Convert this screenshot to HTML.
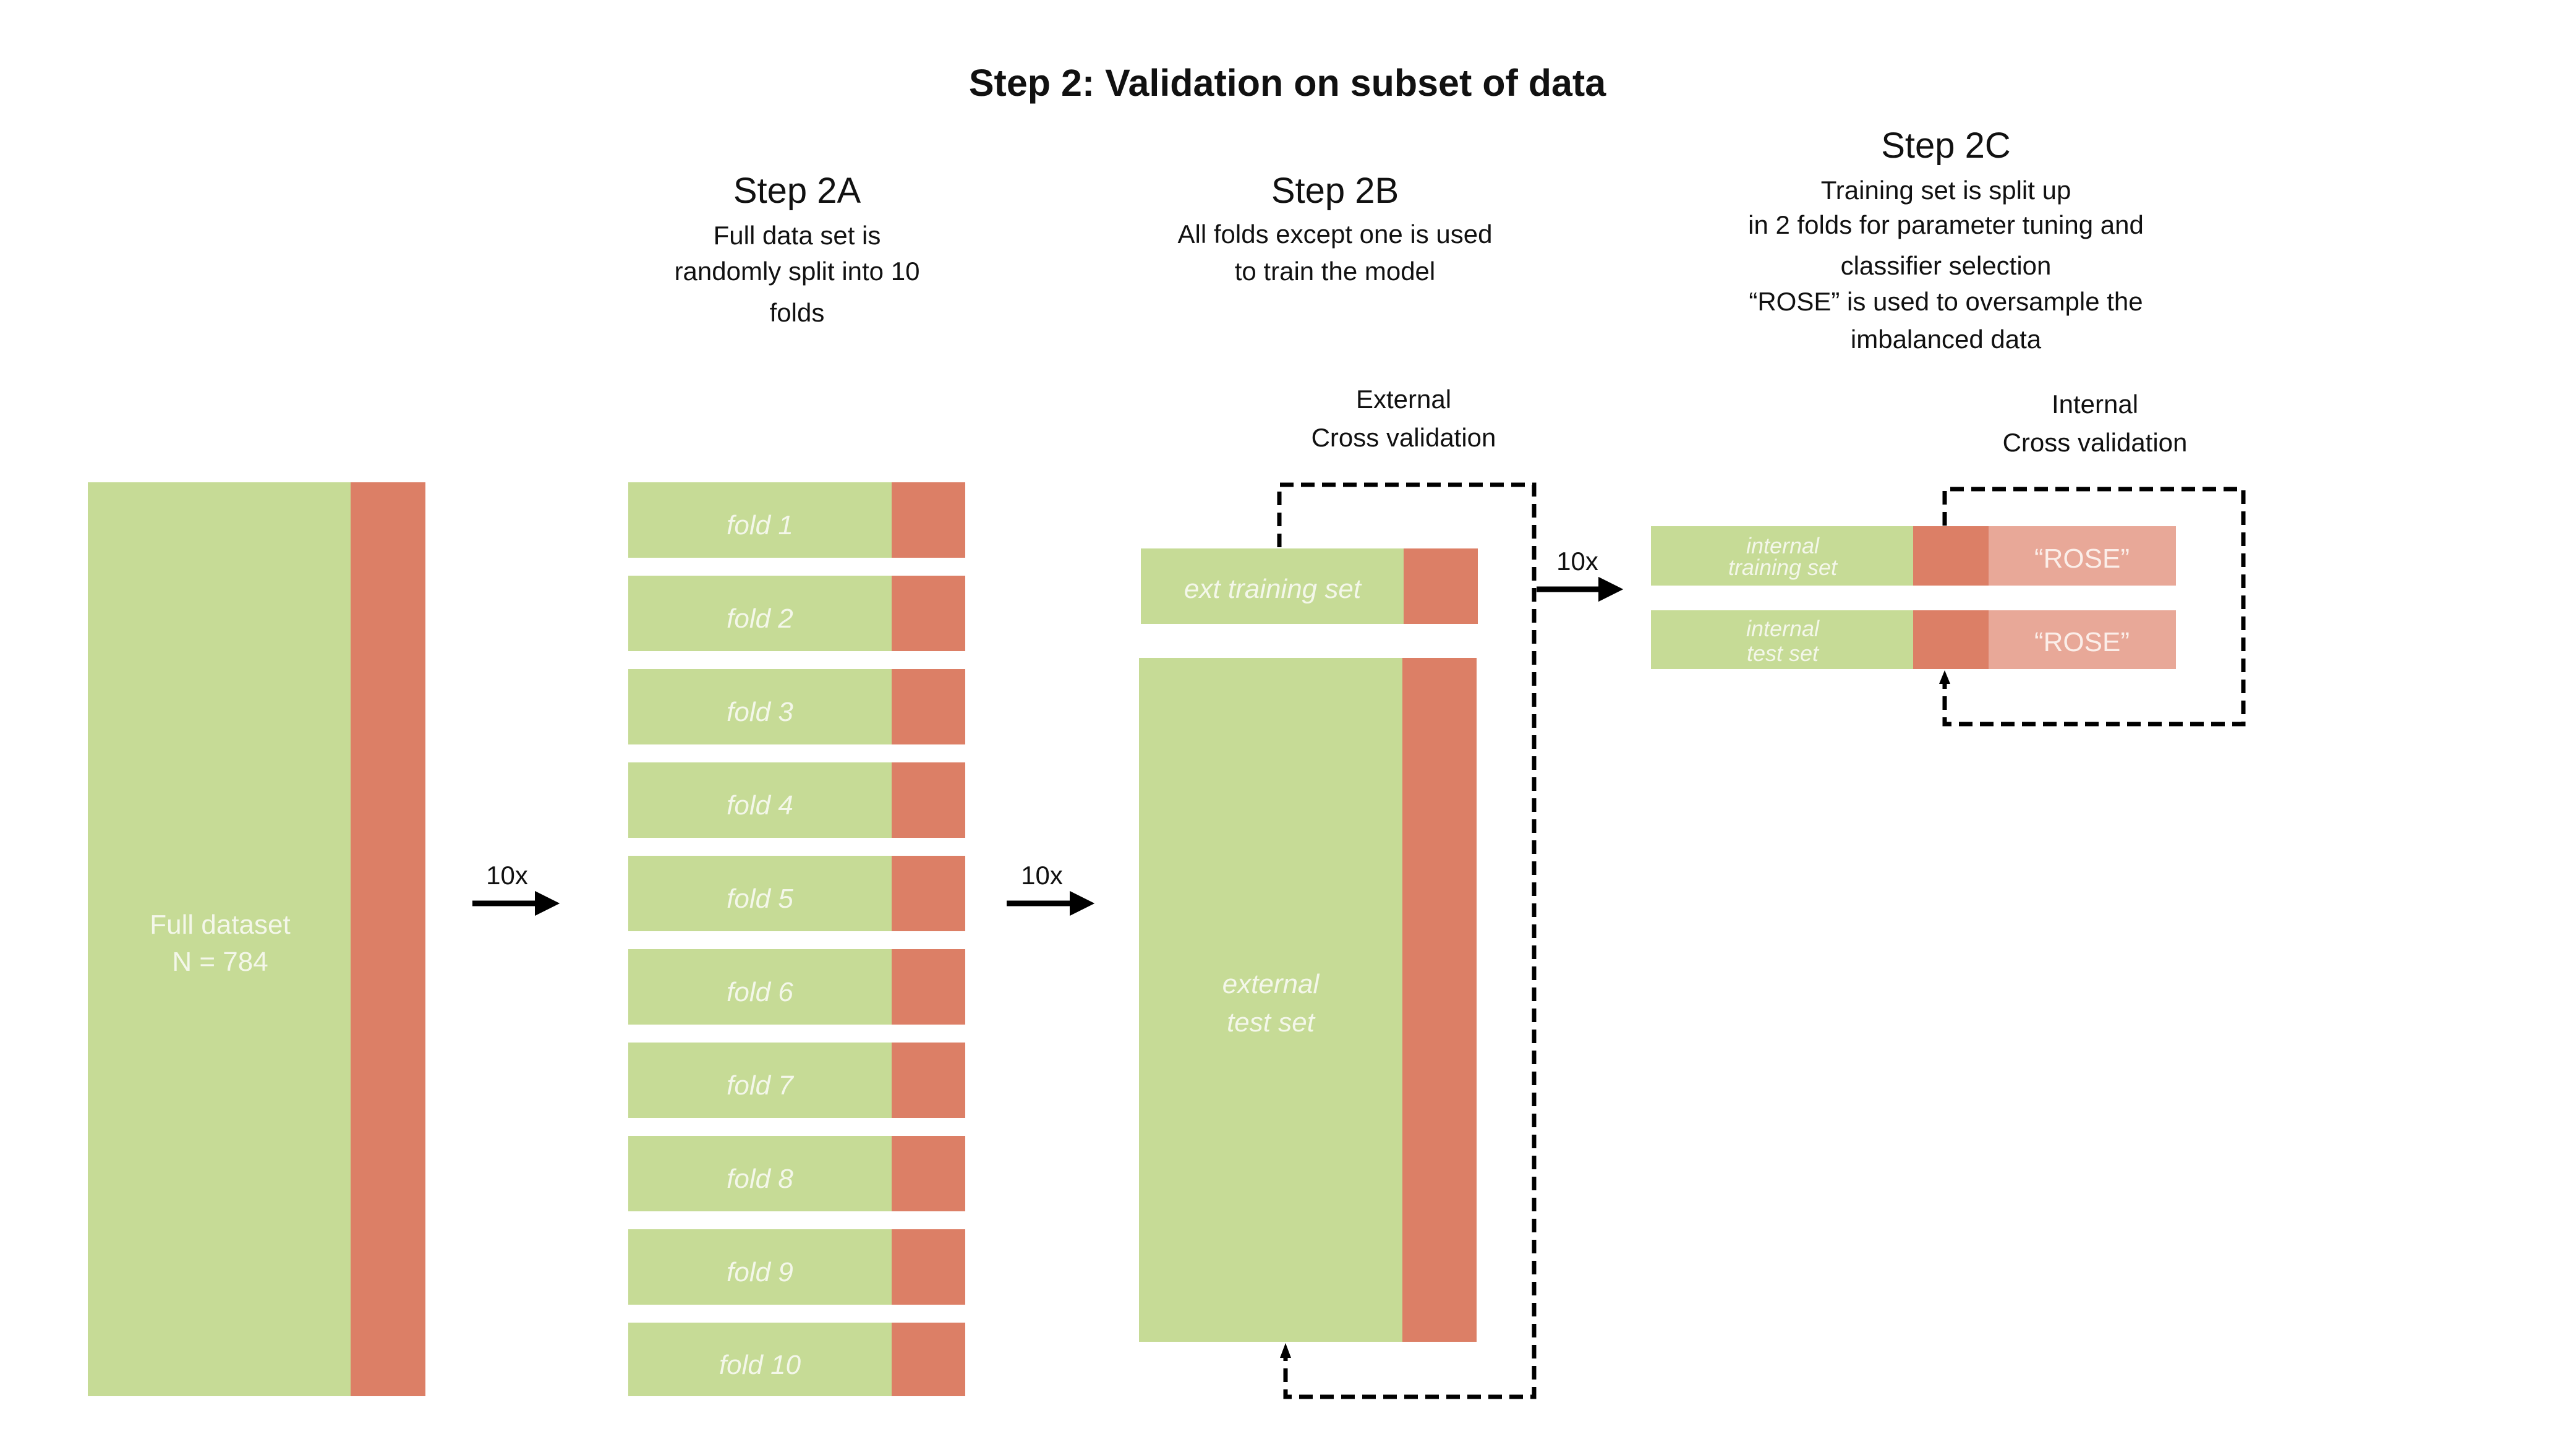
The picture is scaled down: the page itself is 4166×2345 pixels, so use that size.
<!DOCTYPE html>
<html><head><meta charset="utf-8"><style>
html,body{margin:0;padding:0;background:#fff;}
svg{display:block;}
text{font-family:"Liberation Sans",sans-serif;}
.h{font-size:58px;fill:#111;}
.t{font-size:42px;fill:#111;}
.w{font-size:44px;fill:#f4f7ea;font-style:italic;}
</style></head><body>
<svg width="4166" height="2345" viewBox="0 0 4166 2345" xmlns="http://www.w3.org/2000/svg">
<defs><marker id="ah" markerWidth="4.5" markerHeight="4.5" refX="2.25" refY="2.25" orient="auto" markerUnits="strokeWidth"><path d="M0,0 L4.5,2.25 L0,4.5 z" fill="#000"/></marker></defs>
<text x="2082" y="155" text-anchor="middle" font-weight="bold" style="font-size:61px" fill="#111">Step 2: Validation on subset of data</text>
<text class="h" x="1289" y="328" text-anchor="middle">Step 2A</text>
<text class="t" x="1289" y="395" text-anchor="middle">Full data set is</text>
<text class="t" x="1289" y="453" text-anchor="middle">randomly split into 10</text>
<text class="t" x="1289" y="520" text-anchor="middle">folds</text>
<text class="h" x="2159" y="328" text-anchor="middle">Step 2B</text>
<text class="t" x="2159" y="393" text-anchor="middle">All folds except one is used</text>
<text class="t" x="2159" y="453" text-anchor="middle">to train the model</text>
<text class="h" x="3147" y="255" text-anchor="middle">Step 2C</text>
<text class="t" x="3147" y="322" text-anchor="middle">Training set is split up</text>
<text class="t" x="3147" y="378" text-anchor="middle">in 2 folds for parameter tuning and</text>
<text class="t" x="3147" y="444" text-anchor="middle">classifier selection</text>
<text class="t" x="3147" y="502" text-anchor="middle">“ROSE” is used to oversample the</text>
<text class="t" x="3147" y="563" text-anchor="middle">imbalanced data</text>
<text class="t" x="2270" y="660" text-anchor="middle">External</text>
<text class="t" x="2270" y="722" text-anchor="middle">Cross validation</text>
<text class="t" x="3388" y="668" text-anchor="middle">Internal</text>
<text class="t" x="3388" y="730" text-anchor="middle">Cross validation</text>

<rect x="142" y="780" width="425" height="1478" fill="#c6db96"/>
<rect x="567" y="780" width="121" height="1478" fill="#dc7f66"/>
<text x="356" y="1510" text-anchor="middle" style="font-size:44px" fill="#f4f7ea">Full dataset</text>
<text x="356" y="1570" text-anchor="middle" style="font-size:44px" fill="#f4f7ea">N = 784</text>

<g>
<rect x="1016" y="780" width="426" height="122" fill="#c6db96"/><rect x="1442" y="780" width="119" height="122" fill="#dc7f66"/><text class="w" x="1229" y="864" text-anchor="middle">fold 1</text>
<rect x="1016" y="931" width="426" height="122" fill="#c6db96"/><rect x="1442" y="931" width="119" height="122" fill="#dc7f66"/><text class="w" x="1229" y="1015" text-anchor="middle">fold 2</text>
<rect x="1016" y="1082" width="426" height="122" fill="#c6db96"/><rect x="1442" y="1082" width="119" height="122" fill="#dc7f66"/><text class="w" x="1229" y="1166" text-anchor="middle">fold 3</text>
<rect x="1016" y="1233" width="426" height="122" fill="#c6db96"/><rect x="1442" y="1233" width="119" height="122" fill="#dc7f66"/><text class="w" x="1229" y="1317" text-anchor="middle">fold 4</text>
<rect x="1016" y="1384" width="426" height="122" fill="#c6db96"/><rect x="1442" y="1384" width="119" height="122" fill="#dc7f66"/><text class="w" x="1229" y="1468" text-anchor="middle">fold 5</text>
<rect x="1016" y="1535" width="426" height="122" fill="#c6db96"/><rect x="1442" y="1535" width="119" height="122" fill="#dc7f66"/><text class="w" x="1229" y="1619" text-anchor="middle">fold 6</text>
<rect x="1016" y="1686" width="426" height="122" fill="#c6db96"/><rect x="1442" y="1686" width="119" height="122" fill="#dc7f66"/><text class="w" x="1229" y="1770" text-anchor="middle">fold 7</text>
<rect x="1016" y="1837" width="426" height="122" fill="#c6db96"/><rect x="1442" y="1837" width="119" height="122" fill="#dc7f66"/><text class="w" x="1229" y="1921" text-anchor="middle">fold 8</text>
<rect x="1016" y="1988" width="426" height="122" fill="#c6db96"/><rect x="1442" y="1988" width="119" height="122" fill="#dc7f66"/><text class="w" x="1229" y="2072" text-anchor="middle">fold 9</text>
<rect x="1016" y="2139" width="426" height="119" fill="#c6db96"/><rect x="1442" y="2139" width="119" height="119" fill="#dc7f66"/><text class="w" x="1229" y="2222" text-anchor="middle">fold 10</text>
</g>

<text class="t" x="820" y="1430" text-anchor="middle">10x</text>
<line x1="764" y1="1461" x2="885" y2="1461" stroke="#000" stroke-width="9" marker-end="url(#ah)"/>
<text class="t" x="1685" y="1430" text-anchor="middle">10x</text>
<line x1="1628" y1="1461" x2="1750" y2="1461" stroke="#000" stroke-width="9" marker-end="url(#ah)"/>

<rect x="1845" y="887" width="425" height="122" fill="#c6db96"/><rect x="2270" y="887" width="120" height="122" fill="#dc7f66"/>
<text class="w" x="2058" y="967" text-anchor="middle">ext training set</text>
<rect x="1842" y="1064" width="426" height="1106" fill="#c6db96"/><rect x="2268" y="1064" width="120" height="1106" fill="#dc7f66"/>
<text class="w" x="2055" y="1606" text-anchor="middle">external</text>
<text class="w" x="2055" y="1668" text-anchor="middle">test set</text>

<path d="M2069,885 V784 H2481 V2259 H2079 V2185" fill="none" stroke="#000" stroke-width="7" stroke-dasharray="22,12"/>
<path d="M2079,2172 l-9,24 h18 z" fill="#000"/>

<text class="t" x="2551" y="922" text-anchor="middle">10x</text>
<line x1="2485" y1="953" x2="2605" y2="953" stroke="#000" stroke-width="9" marker-end="url(#ah)"/>

<rect x="2670" y="851" width="424" height="96" fill="#c6db96"/><rect x="3094" y="851" width="122" height="96" fill="#dc7f66"/><rect x="3216" y="851" width="303" height="96" fill="#e8a898"/>
<text x="2883" y="895" text-anchor="middle" style="font-size:36px;font-style:italic" fill="#f4f7ea">internal</text>
<text x="2883" y="930" text-anchor="middle" style="font-size:36px;font-style:italic" fill="#f4f7ea">training set</text>
<text x="3367" y="918" text-anchor="middle" style="font-size:44px" fill="#fbeee9">“ROSE”</text>
<rect x="2670" y="987" width="424" height="95" fill="#c6db96"/><rect x="3094" y="987" width="122" height="95" fill="#dc7f66"/><rect x="3216" y="987" width="303" height="95" fill="#e8a898"/>
<text x="2883" y="1029" text-anchor="middle" style="font-size:36px;font-style:italic" fill="#f4f7ea">internal</text>
<text x="2883" y="1069" text-anchor="middle" style="font-size:36px;font-style:italic" fill="#f4f7ea">test set</text>
<text x="3367" y="1053" text-anchor="middle" style="font-size:44px" fill="#fbeee9">“ROSE”</text>

<path d="M3145,850 V791 H3628 V1171 H3145 V1098" fill="none" stroke="#000" stroke-width="7" stroke-dasharray="22,12"/>
<path d="M3145,1084 l-9,22 h18 z" fill="#000"/>
</svg>
</body></html>
